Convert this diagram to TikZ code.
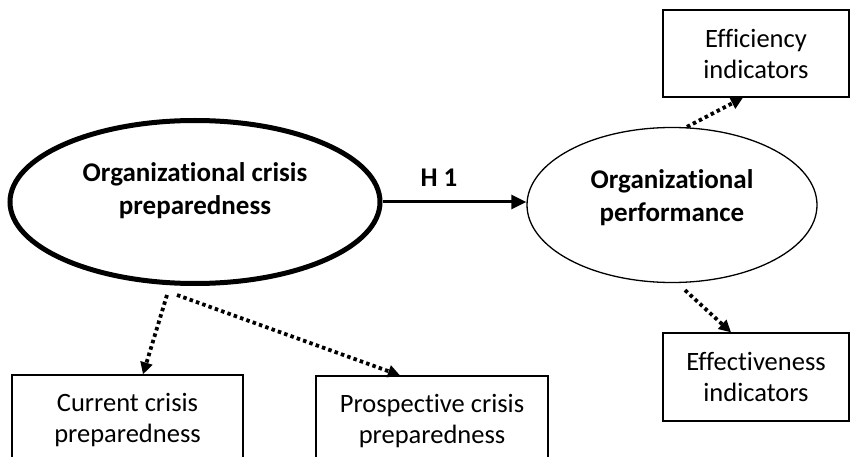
\documentclass[tikz,border=0pt]{standalone}
\usepackage{fontspec}
\setmainfont[Ligatures={NoCommon}]{Carlito}
\usetikzlibrary{arrows.meta,shapes.geometric,calc}
\begin{document}
\begin{tikzpicture}[x=1pt,y=-1pt,
  box/.style={draw,line width=1.3pt,rectangle,inner sep=0pt,align=center,
    font=\fontsize{26.5}{31}\selectfont},
  oval/.style={draw,ellipse,inner sep=0pt},
  bold/.style={align=center,font=\bfseries\fontsize{27}{33}\selectfont},
  dotarrow/.style={line width=3.8pt,dash pattern=on 3.5pt off 3.2pt,
    -{Triangle[length=12pt,width=12pt]}},
  mainarrow/.style={line width=3pt,-{Triangle[length=15pt,width=14pt]}}]
\useasboundingbox (0,0) rectangle (851,457);
\node[oval,line width=5pt,minimum width=370pt,minimum height=163pt] (big) at (195,202) {};
\node[bold] (bigtext) at (195,191) {Organizational crisis\\preparedness};
\node[oval,line width=1.3pt,minimum width=290pt,minimum height=155pt] (perf) at (672,205) {};
\node[bold] (perftext) at (672,198) {Organizational\\performance};
\node[box,minimum width=186pt,minimum height=87pt] (eff) at (756,53.5) {Efficiency\\indicators};
\node[box,minimum width=186pt,minimum height=88pt] (effect) at (756,377) {Effectiveness\\indicators};
\node[box,minimum width=231pt,minimum height=90pt] (cur) at (127.5,420) {Current crisis\\preparedness};
\node[box,minimum width=232pt,minimum height=90pt] (pros) at (432,421) {Prospective crisis\\preparedness};
\node[bold] (h1) at (439,178) {H 1};
\draw[mainarrow] (big.east) -- (big.east -| perf.west);
\draw[dotarrow] ($(big.south)+(-28,9)$) -- ([xshift=15.5pt]cur.north);
\draw[dotarrow] ($(big.south)+(-18,9)$) -- ([xshift=-32pt]pros.north);
\draw[dotarrow] ([xshift=15pt]perf.north) -- ([xshift=-13pt]eff.south);
\draw[dotarrow] ($(perf.south)+(13,7)$) -- ([xshift=-25pt]effect.north);
\end{tikzpicture}
\end{document}
